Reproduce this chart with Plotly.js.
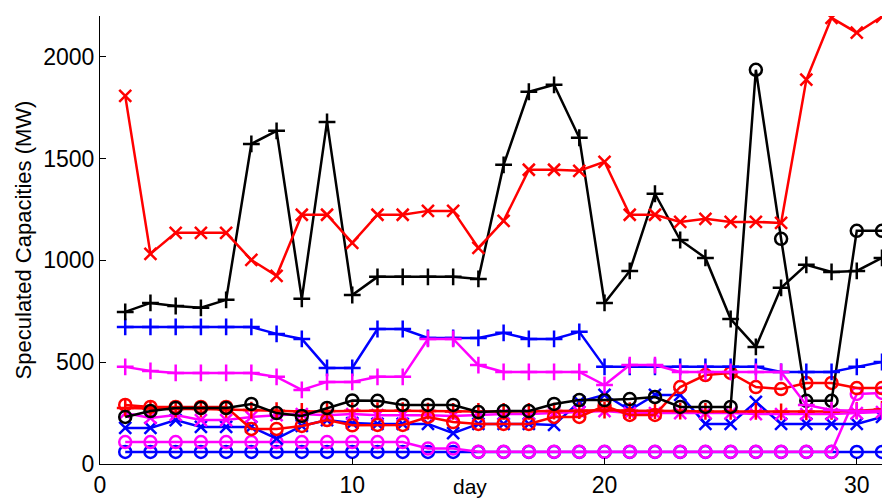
<!DOCTYPE html>
<html>
<head>
<meta charset="utf-8">
<script src="https://cdn.plot.ly/plotly-3.0.1.min.js"></script>
<style>
  html, body { margin: 0; padding: 0; background: #fff; }
  #chart { width: 888px; height: 501px; }
</style>
</head>
<body>
<div id="chart"></div>
<script>
// days 1..31
const days = Array.from({ length: 31 }, (_, i) => i + 1);

// speculated capacities (MW)
const redX = [1808, 1032, 1135, 1135, 1135, 1002, 924, 1224, 1224, 1086, 1224, 1224, 1243, 1243, 1061, 1194,
  1445, 1445, 1440, 1484, 1224, 1224, 1189, 1204, 1189, 1189, 1184, 1887, 2191, 2118, 2197];
const blackPlus = [747, 791, 776, 767, 806, 1572, 1636, 811, 1680, 830, 919, 919, 919, 919, 909, 1469,
  1828, 1862, 1602, 791, 948, 1327, 1100, 1012, 712, 575, 865, 978, 943, 948, 1012];
const blackO = [231, 260, 275, 275, 275, 295, 250, 236, 275, 312, 310, 290, 290, 290, 255, 260,
  260, 295, 314, 314, 319, 329, 280, 280, 280, 1936, 1106, 310, 310, 1145, 1145];
const bluePlus = [673, 673, 673, 673, 673, 673, 639, 614, 472, 472, 663, 663, 619, 619, 619, 644,
  614, 614, 649, 477, 477, 477, 477, 477, 477, 477, 452, 452, 452, 477, 501];
const magentaPlus = [477, 457, 447, 447, 447, 447, 428, 364, 403, 403, 428, 428, 614, 614, 486, 452,
  452, 452, 452, 388, 486, 486, 452, 452, 452, 452, 452, 290, 265, 260, 260];
const redO = [290, 280, 280, 280, 280, 172, 172, 187, 216, 190, 192, 192, 231, 206, 197, 197,
  197, 231, 231, 285, 241, 241, 378, 437, 447, 378, 368, 398, 398, 373, 373];
const redPlus = [275, 272, 270, 270, 268, 265, 262, 258, 260, 262, 262, 262, 260, 258, 258, 258,
  258, 260, 262, 265, 262, 262, 260, 258, 258, 258, 256, 256, 258, 262, 268];
const blueX = [177, 177, 216, 182, 182, 182, 125, 187, 216, 201, 197, 197, 197, 152, 197, 197,
  197, 192, 305, 340, 265, 339, 339, 197, 197, 305, 197, 197, 197, 197, 231];
const magentaX = [250, 226, 241, 216, 216, 231, 240, 245, 240, 245, 240, 240, 240, 236, 240, 245,
  245, 250, 255, 260, 250, 250, 250, 250, 250, 245, 245, 245, 245, 250, 255];
const magentaO = [108, 108, 108, 108, 108, 108, 108, 108, 108, 108, 108, 108, 76, 76, 60, 60,
  60, 60, 60, 60, 60, 60, 60, 60, 60, 60, 60, 60, 60, 344, 349];
const blueO = [59, 59, 59, 59, 59, 59, 59, 59, 59, 59, 59, 59, 59, 59, 59, 59,
  59, 59, 59, 59, 59, 59, 59, 59, 59, 59, 59, 59, 59, 59, 59];

const RED = "#ff0000", BLUE = "#0000ff", MAGENTA = "#ff00ff", BLACK = "#000000";

function series(y, color, symbol, name) {
  return {
    type: "scatter",
    mode: "lines+markers",
    name: name,
    x: days,
    y: y,
    line: { color: color, width: 2.5 },
    marker: {
      symbol: symbol,
      size: 12,
      color: color,
      line: { color: color, width: 2.5 }
    },
    hoverinfo: "x+y"
  };
}

const traces = [
  series(blueO, BLUE, "circle-open", "blue o"),
  series(magentaO, MAGENTA, "circle-open", "magenta o"),
  series(blueX, BLUE, "x-thin-open", "blue x"),
  series(magentaX, MAGENTA, "x-thin-open", "magenta x"),
  series(redPlus, RED, "cross-thin-open", "red +"),
  series(redO, RED, "circle-open", "red o"),
  series(blackO, BLACK, "circle-open", "black o"),
  series(bluePlus, BLUE, "cross-thin-open", "blue +"),
  series(magentaPlus, MAGENTA, "cross-thin-open", "magenta +"),
  series(blackPlus, BLACK, "cross-thin-open", "black +"),
  series(redX, RED, "x-thin-open", "red x")
];

const tickFont = { family: "Liberation Sans, Arial, sans-serif", size: 23, color: "#000" };

const layout = {
  width: 888,
  height: 501,
  margin: { l: 100, r: 6, t: 16, b: 37 },
  paper_bgcolor: "#fff",
  plot_bgcolor: "#fff",
  showlegend: false,
  xaxis: {
    range: [0, 31],
    tickvals: [0, 10, 20, 30],
    ticks: "inside",
    ticklen: 6,
    tickcolor: "#000",
    showline: true,
    linecolor: "#000",
    linewidth: 1,
    showgrid: false,
    zeroline: false,
    tickfont: tickFont,
    automargin: false
  },
  yaxis: {
    range: [0, 2200],
    tickvals: [0, 500, 1000, 1500, 2000],
    ticks: "inside",
    ticklen: 6,
    tickcolor: "#000",
    showline: true,
    linecolor: "#000",
    linewidth: 1,
    showgrid: false,
    zeroline: false,
    tickfont: tickFont,
    automargin: false,
    title: {
      text: "Speculated Capacities (MW)",
      font: { family: "Liberation Sans, Arial, sans-serif", size: 22, color: "#000" },
      standoff: 5
    }
  },
  annotations: [
    {
      x: 0.473,
      y: -0.078,
      xref: "paper",
      yref: "paper",
      text: "day",
      showarrow: false,
      xanchor: "center",
      yanchor: "bottom",
      borderpad: 0,
      font: { family: "Liberation Sans, Arial, sans-serif", size: 21, color: "#000" }
    }
  ]
};

Plotly.newPlot("chart", traces, layout, {
  displayModeBar: false,
  staticPlot: true
});
</script>
</body>
</html>
